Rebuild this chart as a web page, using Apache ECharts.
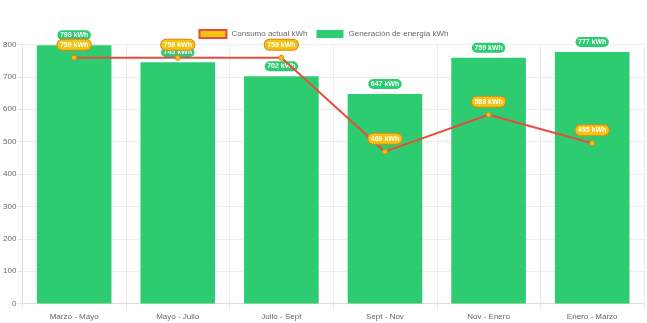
<!DOCTYPE html>
<html>
<head>
<meta charset="utf-8">
<script src="https://cdn.jsdelivr.net/npm/echarts@6/dist/echarts.min.js"></script>
<style>
  html, body { margin: 0; padding: 0; background: #fff; }
  #chart { width: 647px; height: 323px; }
</style>
</head>
<body>
<div id="chart"></div>
<script>
// Periods on the x axis
const periods = ['Marzo - Mayo', 'Mayo - Julio', 'Julio - Sept', 'Sept - Nov', 'Nov - Enero', 'Enero - Marzo'];
// Energy generated per period (kWh)
const generation = [798, 745, 702, 647, 759, 777];
// Actual consumption per period (kWh)
const consumption = [759, 759, 759, 469, 583, 495];

const seriesNames = ['Consumo actual kWh', 'Generación de energía kWh'];

const FONT = '"Liberation Sans", Arial, sans-serif';

const chart = echarts.init(document.getElementById('chart'), null, { renderer: 'canvas' });

const valueLabel = (bg, border) => ({
  show: true,
  position: 'top',
  distance: 5,
  formatter: p => p.value + ' kWh',
  color: '#fff',
  fontFamily: FONT,
  fontWeight: 'bold',
  fontSize: 7,
  lineHeight: 8,
  backgroundColor: bg,
  borderColor: border,
  borderWidth: 1,
  borderRadius: 5,
  padding: [1, 2.5, 1, 2.5]
});

chart.setOption({
  animation: false,
  textStyle: { fontFamily: FONT },
  legend: {
    top: 24,
    left: 'center',
    itemWidth: 27,
    itemHeight: 8,
    itemGap: 9,
    height: 9,
    textStyle: { fontFamily: FONT, fontSize: 8, lineHeight: 9, color: '#666' },
    data: [
      { name: seriesNames[0], icon: 'rect', itemStyle: { color: '#f1c40f', borderColor: '#e74c3c', borderWidth: 2 } },
      { name: seriesNames[1], icon: 'rect', itemStyle: { color: '#2ecc71', borderWidth: 0 } }
    ]
  },
  grid: { left: 22, right: 3, top: 44.5, bottom: 19.5, containLabel: false },
  xAxis: {
    type: 'category',
    data: periods,
    boundaryGap: true,
    axisLine: { show: true, lineStyle: { color: '#ddd' } },
    axisTick: { show: true, length: 5, lineStyle: { color: '#e5e5e5' } },
    splitLine: { show: true, lineStyle: { color: '#ececec' } },
    axisLabel: { color: '#666', fontSize: 8, fontFamily: FONT, margin: 9 }
  },
  yAxis: {
    type: 'value',
    min: 0,
    max: 800,
    interval: 100,
    axisLine: { show: true, lineStyle: { color: '#ddd' } },
    axisTick: { show: true, length: 5, lineStyle: { color: '#e5e5e5' } },
    splitLine: { show: true, lineStyle: { color: '#ececec' } },
    axisLabel: { color: '#666', fontSize: 8, fontFamily: FONT, margin: 6 }
  },
  series: [
    {
      name: seriesNames[1],
      type: 'bar',
      data: generation,
      barCategoryGap: '28%',
      itemStyle: { color: '#2ecc71' },
      label: valueLabel('#2ecc71', 'rgba(255,255,255,0.85)'),
      z: 2
    },
    {
      name: seriesNames[0],
      type: 'line',
      data: consumption,
      symbol: 'circle',
      symbolSize: 5,
      lineStyle: { color: '#e74c3c', width: 2 },
      itemStyle: { color: '#f1c40f', borderColor: '#e67e22', borderWidth: 1 },
      label: valueLabel('#f1c40f', '#e67e22'),
      z: 5
    }
  ]
});
</script>
</body>
</html>
